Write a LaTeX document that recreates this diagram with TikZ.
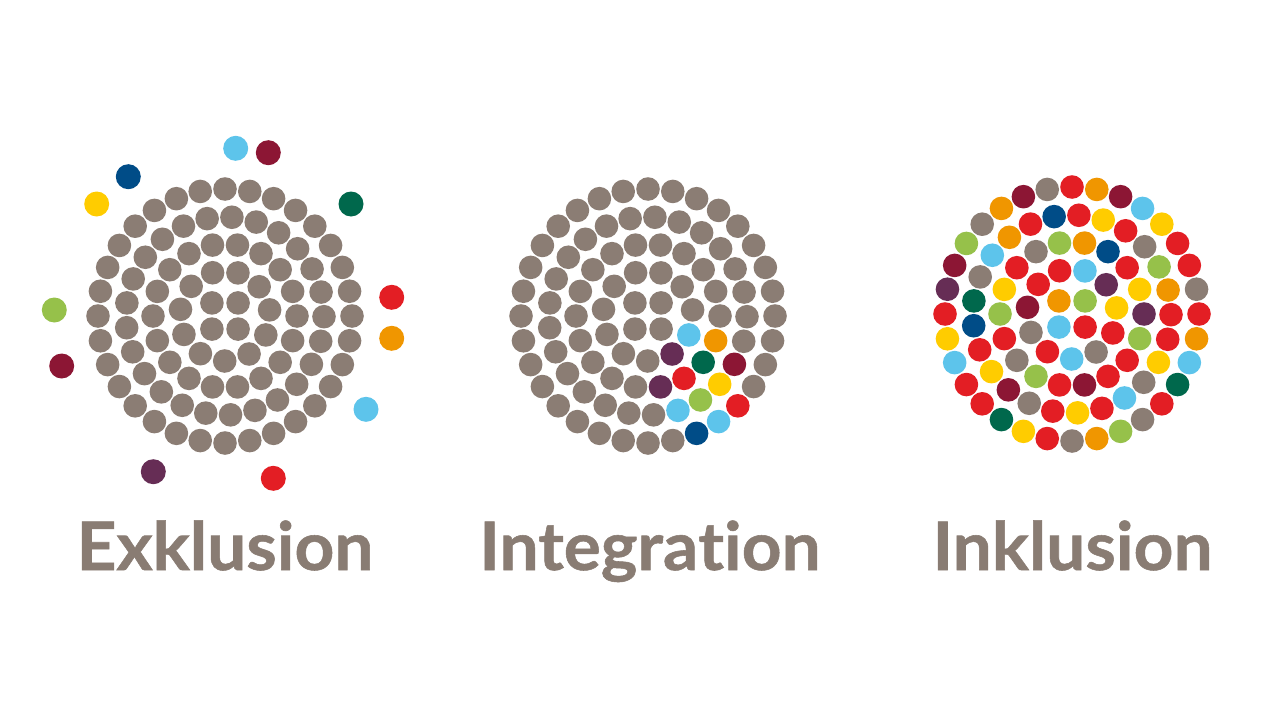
\documentclass[tikz,border=0pt]{standalone}
\usepackage{fontspec}
\setmainfont{Lato}[Ligatures=NoCommon,FakeStretch=1.04,BoldFeatures={FakeBold=0.8}]
\definecolor{gr}{RGB}{139,125,116}
\definecolor{rd}{RGB}{227,30,36}
\definecolor{dr}{RGB}{140,22,52}
\definecolor{or}{RGB}{240,150,0}
\definecolor{ye}{RGB}{255,204,0}
\definecolor{lg}{RGB}{150,193,74}
\definecolor{dg}{RGB}{0,104,76}
\definecolor{lb}{RGB}{93,196,235}
\definecolor{db}{RGB}{0,76,135}
\definecolor{pu}{RGB}{102,45,85}
\definecolor{txt}{RGB}{137,124,115}
% ring of dots: centre x, centre y, radius, start angle, count, colour list
\newcommand\dotring[6]{%
  \foreach \c [count=\i from 0] in {#6} {%
    \fill[\c] ({#1+#3*cos(#4-\i*360/#5)},{#2-#3*sin(#4-\i*360/#5)}) circle[radius=0.236cm];}}
\newcommand\greyring[5]{%
  \foreach \i in {1,...,#5} {%
    \fill[gr] ({#1+#3*cos(#4-\i*360/#5)},{#2-#3*sin(#4-\i*360/#5)}) circle[radius=0.236cm];}}
\tikzset{label/.style={anchor=base,inner sep=0pt,text=txt,font=\fontsize{38}{40}\selectfont\bfseries},
  loose/.style={radius=0.25cm}}
\begin{document}
\begin{tikzpicture}[x=0.02cm,y=-0.02cm]
\useasboundingbox (0,0) rectangle (1280,720);
\fill[white] (0,0) rectangle (1280,720);
% ---------- Exklusion ----------
\greyring{225}{316}{18.5}{135}{4}
\greyring{225}{316}{45}{106}{11}
\greyring{225}{316}{72}{100}{18}
\greyring{225}{316}{99}{100.4}{25}
\greyring{225}{316}{127}{90}{32}
\fill[lb] (235.7,148.3) circle[loose];
\fill[dr] (268.3,152.7) circle[loose];
\fill[db] (128.3,176.7) circle[loose];
\fill[ye] (96.7,204) circle[loose];
\fill[dg] (351,204) circle[loose];
\fill[rd] (391.7,297.3) circle[loose];
\fill[or] (391.7,338.3) circle[loose];
\fill[lg] (54.3,310) circle[loose];
\fill[dr] (61.7,366) circle[loose];
\fill[lb] (366,409.3) circle[loose];
\fill[pu] (153.3,471.7) circle[loose];
\fill[rd] (273.3,478.3) circle[loose];
\node[label] (exk) at (225,570) {Exklusion};
% ---------- Integration ----------
\greyring{648}{316}{18.5}{135}{4}
\dotring{648}{316}{45}{106}{11}{gr,gr,gr,gr,lb,pu,gr,gr,gr,gr,gr}
\dotring{648}{316}{72}{100}{18}{gr,gr,gr,gr,gr,gr,or,dg,rd,pu,gr,gr,gr,gr,gr,gr,gr,gr}
\dotring{648}{316}{99}{100.4}{25}{gr,gr,gr,gr,gr,gr,gr,gr,gr,dr,ye,lg,lb,gr,gr,gr,gr,gr,gr,gr,gr,gr,gr,gr,gr}
\dotring{648}{316}{127}{90}{32}{gr,gr,gr,gr,gr,gr,gr,gr,gr,gr,gr,gr,rd,lb,db,gr,gr,gr,gr,gr,gr,gr,gr,gr,gr,gr,gr,gr,gr,gr,gr,gr}
\node[label] (int) at (650,570) {Integra\kern0pt tion};
% ---------- Inklusion ----------
\dotring{1072}{314}{18.5}{135}{4}{or,lg,rd,lb}
\dotring{1072}{314}{45}{106}{11}{rd,lb,pu,ye,rd,gr,lb,rd,gr,dr,rd}
\dotring{1072}{314}{72}{100}{18}{lg,or,db,rd,ye,pu,lg,rd,rd,dr,rd,lg,gr,rd,lg,ye,rd,gr}
\dotring{1072}{314}{99}{100.4}{25}{db,rd,ye,rd,gr,lg,or,rd,rd,ye,gr,lb,rd,ye,rd,gr,dr,ye,rd,db,dg,gr,lb,or,rd}
\dotring{1072}{314}{127}{90}{32}{rd,or,dr,lb,ye,rd,rd,gr,rd,or,lb,dg,rd,gr,lg,or,gr,rd,ye,dg,rd,rd,lb,ye,rd,pu,dr,lg,gr,or,dr,gr}
\node[label] (ink) at (1072.5,570) {Inklusion};
\end{tikzpicture}
\end{document}
